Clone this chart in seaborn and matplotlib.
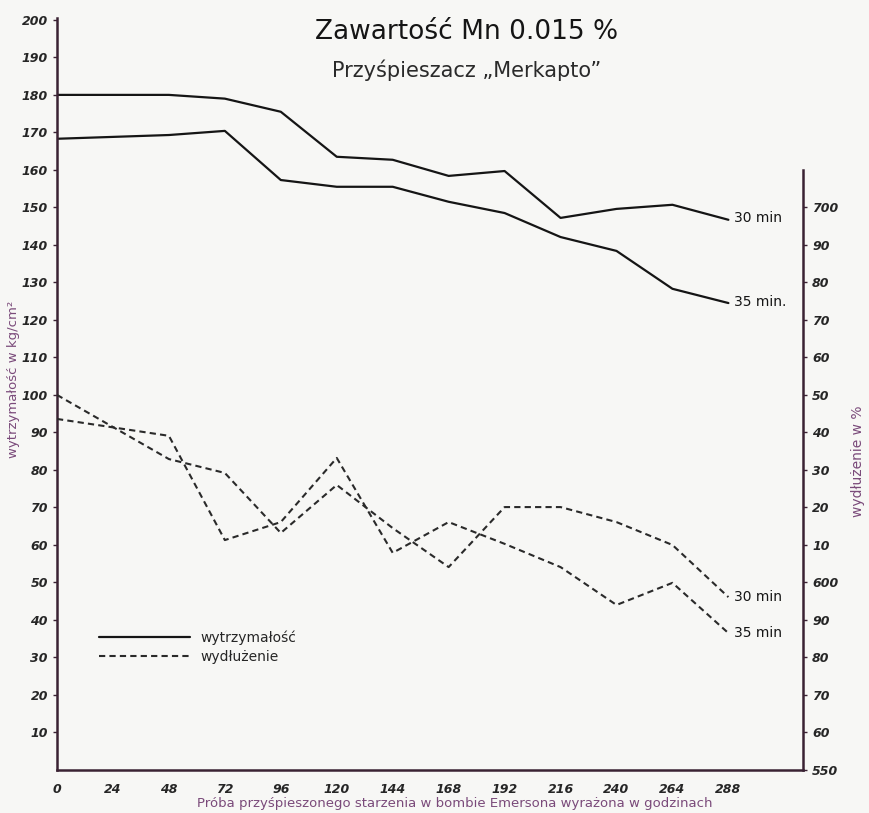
import numpy as np
import pandas as pd
import matplotlib
matplotlib.use("Agg")
import matplotlib.pyplot as plt
from matplotlib.ticker import FuncFormatter
from matplotlib.lines import Line2D
import seaborn as sns

# ── dane ──────────────────────────────────────────────────────
godziny = [0, 48, 72, 96, 120, 144, 168, 192, 216, 240, 264, 288]

wytrz_30 = [180, 180, 179, 175.5, 163.5, 162.7, 158.4, 159.7, 147.2, 149.6, 150.7, 146.7]
wytrz_35 = [168.3, 169.3, 170.4, 157.3, 155.5, 155.5, 151.5, 148.5, 142.1, 138.4, 128.3, 124.5]

wydl_30 = [650, 632.9, 629.2, 613.2, 626, 614.5, 604.1, 620.1, 620.1, 616.1, 610, 596.1]
wydl_35 = [643.6, 639.1, 611.3, 616.1, 633.2, 607.9, 616.1, 610.3, 604.1, 594, 599.9, 586.5]

x_ticks = list(range(0, 289, 24))
y_ticks_lewa = list(range(10, 201, 10))
y_ticks_prawa = list(range(550, 701, 10))

KOLOR_OSI = '#3a2233'
KOLOR_OPISU = '#7a4a7a'
TLO = '#f7f7f5'

sns.set_style("white")
plt.rcParams['font.family'] = ['DejaVu Sans']

fig = plt.figure(figsize=(8.7, 8.13), dpi=100)
fig.patch.set_facecolor(TLO)
ax = fig.add_axes([57/870, 1 - 770/813, 746/870, 752/813])
ax.set_facecolor(TLO)

df_w = pd.DataFrame({'h': godziny, 'w30': wytrz_30, 'w35': wytrz_35})
sns.lineplot(data=df_w, x='h', y='w30', ax=ax, color='#151515', lw=1.6)
sns.lineplot(data=df_w, x='h', y='w35', ax=ax, color='#151515', lw=1.6)

ax.set_xlim(0, 320)
ax.set_ylim(0, 200.5)
ax.set_xticks(x_ticks)
ax.set_yticks(y_ticks_lewa)
ax.tick_params(axis='both', labelsize=9, length=3, color=KOLOR_OSI, width=1)
for lab in ax.get_xticklabels() + ax.get_yticklabels():
    lab.set_fontstyle('italic')
    lab.set_fontweight('bold')
ax.tick_params(axis='x', pad=6)

for s in ['top', 'right']:
    ax.spines[s].set_visible(False)
for s in ['left', 'bottom']:
    ax.spines[s].set_color(KOLOR_OSI)
    ax.spines[s].set_linewidth(1.8)

# druga oś — wydłużenie
ax2 = ax.twinx()
df_d = pd.DataFrame({'h': godziny, 'd30': wydl_30, 'd35': wydl_35})
sns.lineplot(data=df_d, x='h', y='d30', ax=ax2, color='#2a2a2a', lw=1.5, linestyle=(0, (3, 2)))
sns.lineplot(data=df_d, x='h', y='d35', ax=ax2, color='#2a2a2a', lw=1.5, linestyle=(0, (3, 2)))
ax2.set_ylim(550, 750.5)
ax2.set_yticks(y_ticks_prawa)
ax2.yaxis.set_major_formatter(FuncFormatter(
    lambda v, p: str(int(v)) if int(v) % 50 == 0 and int(v) != 650 else f"{int(v) % 100:02d}"))
ax2.tick_params(axis='y', labelsize=9, length=3, color=KOLOR_OSI, width=1)
for lab in ax2.get_yticklabels():
    lab.set_fontstyle('italic')
    lab.set_fontweight('bold')
for s in ['top', 'left', 'bottom']:
    ax2.spines[s].set_visible(False)
ax2.spines['right'].set_color(KOLOR_OSI)
ax2.spines['right'].set_linewidth(1.8)
ax2.spines['right'].set_bounds(550, 710)
ax2.set_xlim(0, 320)
ax2.set_xlabel('')

# opisy końców linii
kw = dict(textcoords='offset points', ha='left', va='center', fontsize=10, color='#151515')
ax.annotate('30 min', (godziny[-1], wytrz_30[-1]), xytext=(4, 1), **kw)
ax.annotate('35 min.', (godziny[-1], wytrz_35[-1]), xytext=(4, 1), **kw)
ax2.annotate('30 min', (godziny[-1], wydl_30[-1]), xytext=(4, 0), **kw)
ax2.annotate('35 min', (godziny[-1], wydl_35[-1]), xytext=(4, 0), **kw)

# legenda
uchwyty = [Line2D([], [], color='#151515', lw=1.6),
           Line2D([], [], color='#2a2a2a', lw=1.5, linestyle=(0, (3, 2)))]
ax.legend(uchwyty, ['wytrzymałość', 'wydłużenie'], loc='lower left',
          bbox_to_anchor=(0.04, 0.125), frameon=False, handlelength=6.5,
          fontsize=10, labelspacing=0.3, handletextpad=0.8)

# podpisy osi
ax.set_xlabel('Próba przyśpieszonego starzenia w bombie Emersona wyrażona w godzinach',
              fontsize=9.5, color=KOLOR_OPISU)
ax.xaxis.set_label_coords(0.533, -0.036)
ax.set_ylabel('wytrzymałość w kg/cm²', fontsize=9.5, color=KOLOR_OPISU)
ax.yaxis.set_label_coords(-0.05, 0.52)
ax2.set_ylabel('wydłużenie w %', fontsize=10, color=KOLOR_OPISU, rotation=90)
ax2.yaxis.set_label_coords(1.065, 0.41)

# tytuł
fig.text(0.536, 1 - 32/813, 'Zawartość Mn 0.015 %', ha='center', va='center',
         fontsize=19, color='#151515')
fig.text(0.536, 1 - 70/813, 'Przyśpieszacz „Merkapto”', ha='center', va='center',
         fontsize=15, color='#2a2a2a')

plt.savefig('out.png', dpi=100, facecolor=TLO)
plt.close()
